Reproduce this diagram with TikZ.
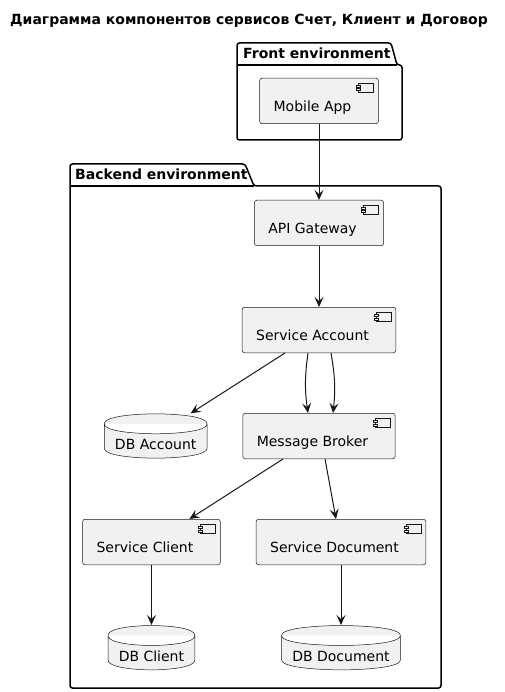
\documentclass[tikz,border=0pt]{standalone}
\usepackage{fontspec}
\setmainfont{DejaVu Sans}
\usepackage{tikz}
\usetikzlibrary{arrows.meta, positioning, calc}
\definecolor{compfill}{HTML}{F1F1F1}
\definecolor{compline}{HTML}{181818}
\tikzstyle{component} = [
	rectangle,
	rounded corners=2.5pt,
	draw=compline,
	line width=0.5pt,
	fill=compfill,
	inner xsep=14pt,
	inner ysep=0pt,
	text height=33.5pt,
	text depth=12pt,
	execute at end node={\hspace*{13pt}},
	path picture={
		\draw[sharp corners, line width=0.5pt, draw=compline]
			([shift={(-20,5)}]path picture bounding box.north east) rectangle ([shift={(-5,14)}]path picture bounding box.north east);
		\draw[sharp corners, line width=0.5pt, draw=compline, fill=compfill]
			([shift={(-22,7)}]path picture bounding box.north east) rectangle ([shift={(-18,9)}]path picture bounding box.north east)
			([shift={(-22,10.5)}]path picture bounding box.north east) rectangle ([shift={(-18,12.5)}]path picture bounding box.north east);
	}
]
\tikzstyle{database} = [
	rectangle,
	inner xsep=11pt,
	inner ysep=0pt,
	text height=36pt,
	text depth=9pt,
	path picture={
		\coordinate (nw) at ([shift={(0.3,0.3)}]path picture bounding box.north west);
		\coordinate (se) at ([shift={(-0.3,-0.3)}]path picture bounding box.south east);
		\draw[line width=0.5pt, draw=compline, fill=compfill]
			let \p1=(nw), \p2=(se), \p3=($(nw)!0.5!(se)$) in
			(\x1,\y1-10pt) .. controls (\x1,\y1) and (\x3,\y1) .. (\x3,\y1)
			.. controls (\x3,\y1) and (\x2,\y1) .. (\x2,\y1-10pt)
			-- (\x2,\y2+10pt) .. controls (\x2,\y2) and (\x3,\y2) .. (\x3,\y2)
			.. controls (\x3,\y2) and (\x1,\y2) .. (\x1,\y2+10pt) -- cycle
			(\x1,\y1-10pt) .. controls (\x1,\y1-20pt) and (\x3,\y1-20pt) .. (\x3,\y1-20pt)
			.. controls (\x3,\y1-20pt) and (\x2,\y1-20pt) .. (\x2,\y1-10pt);
	}
]
\tikzstyle{package} = [
	line width=1.5pt,
	draw=black,
	rounded corners=2.5pt
]
\tikzstyle{pkglabel} = [
	anchor=base west,
	inner sep=0pt,
	font=\fontsize{14pt}{16pt}\selectfont\bfseries
]
\tikzstyle{arrow} = [line width=1pt, draw=compline, ->, >={Stealth[length=10pt, width=9pt, inset=4pt]}]

\begin{document}
\begin{tikzpicture}[x=1pt, y=-1pt, font=\fontsize{14pt}{16pt}\selectfont]
	\useasboundingbox (0,0) rectangle (504,692);

	\node (title) [anchor=base, inner sep=0pt, font=\fontsize{14pt}{16pt}\selectfont\bfseries] at (249,25) {Диаграмма компонентов сервисов Счет, Клиент и Договор};

	\draw [package] (237,140) -- (237,43) -- (391,43) -- (397,65) -- (402,65) -- (402,140) -- cycle;
	\draw [package] (237,65) -- (397,65);
	\node (frontlabel) [pkglabel] at (243,59) {Front environment};

	\draw [package] (70,688) -- (70,164) -- (245,164) -- (254,186) -- (441,186) -- (441,688) -- cycle;
	\draw [package] (70,186) -- (254,186);
	\node (backendlabel) [pkglabel] at (75,180) {Backend environment};

	\node (mobileapp) [component, anchor=north] at (319,78) {Mobile App};
	\node (apigateway) [component, below=76pt of mobileapp] {API Gateway};
	\node (serviceaccount) [component, below=61pt of apigateway] {Service Account};
	\node (messagebroker) [component, below=60pt of serviceaccount] {Message Broker};
	\node (dbaccount) [database, left=35pt of messagebroker] {DB Account};
	\node (serviceclient) [component, below left=60pt and 22pt of messagebroker] {Service Client};
	\node (servicedocument) [component, below=60pt of messagebroker, xshift=22pt] {Service Document};
	\node (dbclient) [database, below=60pt of serviceclient] {DB Client};
	\node (dbdocument) [database, below=60pt of servicedocument] {DB Document};

	\draw [arrow] (mobileapp) -- (apigateway);
	\draw [arrow] (apigateway) -- (serviceaccount);
	\draw [arrow] ([xshift=-34pt]serviceaccount.south) -- ([xshift=35pt]dbaccount.north);
	\draw [arrow] ([xshift=-11pt]serviceaccount.south) to[bend right=8] ([xshift=-11pt]messagebroker.north);
	\draw [arrow] ([xshift=12pt]serviceaccount.south) to[bend left=8] ([xshift=14pt]messagebroker.north);
	\draw [arrow] ([xshift=-36pt]messagebroker.south) -- ([xshift=38pt]serviceclient.north);
	\draw [arrow] ([xshift=6pt]messagebroker.south) -- ([xshift=-5pt]servicedocument.north);
	\draw [arrow] (serviceclient) -- (dbclient);
	\draw [arrow] (servicedocument) -- (dbdocument);
\end{tikzpicture}
\end{document}
